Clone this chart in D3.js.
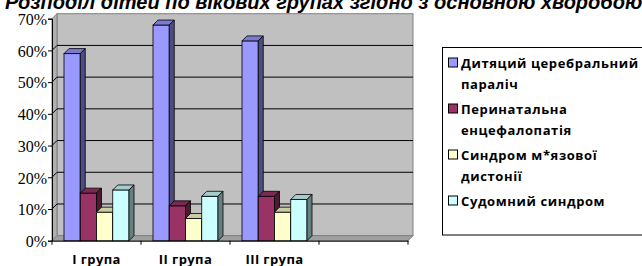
<!DOCTYPE html>
<html>
<head>
<meta charset="utf-8">
<script src="https://cdn.jsdelivr.net/npm/d3@7"></script>
<style>
    body { margin: 0; background: #ffffff; }
    #chart { width: 642px; height: 266px; overflow: hidden; }
</style>
</head>
<body>
<div id="chart"></div>
<script>
// Chart data
const categories = ["I група", "II група", "III група", ""];
const seriesKeys = ["dcp", "pe", "smd", "ss"];
const seriesLabels = [
    ["Дитяций церебральний", "параліч"],
    ["Перинатальна", "енцефалопатія"],
    ["Синдром м*язової", "дистонії"],
    ["Судомний синдром"]
];
const cerebralPalsy = [59, 68, 63];
const perinatalEncephalopathy = [15, 11, 14];
const muscleDystonia = [9, 7, 9];
const seizureSyndrome = [16, 14, 13];
const yTicks = [0, 10, 20, 30, 40, 50, 60, 70];
const titleText = "Розподіл дітей по вікових групах згідно з основною хворобою";

class Column3D {

    constructor() {
        // front, top and side colours per series
        this.colors = {
            dcp: ["#9999ff", "#7a7ad0", "#4d4d80"],
            pe: ["#993366", "#7a2952", "#4d1a33"],
            smd: ["#ffffcc", "#cccca3", "#808066"],
            ss: ["#ccffff", "#a3cccc", "#668080"]
        };
        this.depth = { dx: 5, dy: -5 };
        this.data = [];
        const series = [cerebralPalsy, perinatalEncephalopathy, muscleDystonia, seizureSyndrome];
        categories.forEach(function (c, i) {
            seriesKeys.forEach(function (k, j) {
                if (series[j][i] !== undefined) {
                    this.data.push({ category: c, key: k, value: series[j][i] });
                }
            }, this);
        }, this);
    }

    create_scales() {
        this.y = d3.scaleLinear().domain([0, 70]).range([240.7, 18.7]);
        this.x = d3.scaleBand().domain(categories).range([52, 408]);
        this.x_inner = d3.scaleBand()
            .domain(seriesKeys)
            .range([12, this.x.bandwidth() - 12]);
    }

    draw_walls(svg) {
        var x0 = 52, x1 = 408, dx = this.depth.dx, dy = this.depth.dy;
        var yTop = this.y(70), yBot = this.y(0);

        // back wall
        svg.append("rect")
            .attr("x", x0 + dx)
            .attr("y", yTop + dy)
            .attr("width", x1 - x0)
            .attr("height", yBot - yTop)
            .style("fill", "#c0c0c0")
            .style("stroke", "#808080")
            .style("stroke-width", 1);

        // side wall
        svg.append("polygon")
            .attr("points", [[x0, yBot], [x0 + dx, yBot + dy], [x0 + dx, yTop + dy], [x0, yTop]].join(" "))
            .style("fill", "#b0b0b0")
            .style("stroke", "#808080");

        // floor
        svg.append("polygon")
            .attr("points", [[x0, yBot], [x1, yBot], [x1 + dx, yBot + dy], [x0 + dx, yBot + dy]].join(" "))
            .style("fill", "#a0a0a0")
            .style("stroke", "#808080");

        // gridlines on back wall
        var y = this.y;
        svg.selectAll(".grid")
            .data(yTicks.filter(function (t) { return t > 0 && t < 70; }))
            .enter()
            .append("polyline")
            .attr("points", function (t) {
                return [[x0, y(t)], [x0 + dx, y(t) + dy], [x1 + dx, y(t) + dy]].join(" ");
            })
            .style("fill", "none")
            .style("stroke", "#000")
            .style("stroke-width", 1);
    }

    draw_axes(svg) {
        var y = this.y, x = this.x;

        var y_axis = d3.axisLeft(y)
            .tickValues(yTicks)
            .tickSize(4)
            .tickFormat(function (d) { return d + "%"; });
        var gy = svg.append("g")
            .attr("transform", "translate(52,0)")
            .call(y_axis);
        gy.select(".domain").attr("stroke", "#000");
        gy.selectAll("text")
            .attr("x", -5)
            .attr("dy", "0.36em")
            .style("font-family", "'Liberation Serif', 'Times New Roman', serif")
            .style("font-size", "16px")
            .style("fill", "#000");

        var x_axis = d3.axisBottom(x).tickSize(0).tickFormat(function (d) { return d; });
        var gx = svg.append("g")
            .attr("transform", "translate(0," + y(0) + ")")
            .call(x_axis);
        gx.select(".domain").attr("stroke", "#000");
        gx.selectAll("text")
            .attr("y", 23.5)
            .attr("dy", 0)
            .style("font-family", "'Open Sans', sans-serif")
            .style("font-weight", "bold")
            .style("font-size", "13px")
            .style("letter-spacing", "0.4px")
            .style("fill", "#000");

        // ticks on the category boundaries
        var bounds = categories.map(function (c) { return x(c); }).concat([x.range()[1]]);
        svg.selectAll(".xtick")
            .data(bounds)
            .enter()
            .append("line")
            .attr("x1", function (d) { return d; })
            .attr("x2", function (d) { return d; })
            .attr("y1", y(0))
            .attr("y2", y(0) + 4)
            .style("stroke", "#000");
    }

    draw_bars(svg) {
        var x = this.x, xi = this.x_inner, y = this.y, colors = this.colors;
        var dx = this.depth.dx, dy = this.depth.dy, w = xi.bandwidth();

        var bars = svg.selectAll(".bar")
            .data(this.data)
            .enter()
            .append("g")
            .attr("class", "bar");

        // front
        bars.append("rect")
            .attr("x", function (d) { return x(d.category) + xi(d.key); })
            .attr("y", function (d) { return y(d.value); })
            .attr("width", w)
            .attr("height", function (d) { return y(0) - y(d.value); })
            .style("fill", function (d) { return colors[d.key][0]; })
            .style("stroke", "#000")
            .style("stroke-width", 0.8);

        // top
        bars.append("polygon")
            .attr("points", function (d) {
                var bx = x(d.category) + xi(d.key), by = y(d.value);
                return [[bx, by], [bx + dx, by + dy], [bx + w + dx, by + dy], [bx + w, by]].join(" ");
            })
            .style("fill", function (d) { return colors[d.key][1]; })
            .style("stroke", "#000")
            .style("stroke-width", 0.8);

        // side
        bars.append("polygon")
            .attr("points", function (d) {
                var bx = x(d.category) + xi(d.key) + w, by = y(d.value);
                return [[bx, by], [bx + dx, by + dy], [bx + dx, y(0) + dy], [bx, y(0)]].join(" ");
            })
            .style("fill", function (d) { return colors[d.key][2]; })
            .style("stroke", "#000")
            .style("stroke-width", 0.8);
    }

    draw_legend(svg) {
        var colors = this.colors;
        svg.append("rect")
            .attr("x", 442.5)
            .attr("y", 47.5)
            .attr("width", 220)
            .attr("height", 187.5)
            .style("fill", "#fff")
            .style("stroke", "#000");

        var item_y = [67.5, 113.5, 159.5, 205.5];
        var items = svg.selectAll(".legend")
            .data(seriesKeys)
            .enter()
            .append("g")
            .attr("transform", function (d, i) { return "translate(448," + item_y[i] + ")"; });

        items.append("rect")
            .attr("x", 0.5)
            .attr("y", -9.5)
            .attr("width", 9)
            .attr("height", 9)
            .style("fill", function (d) { return colors[d][0]; })
            .style("stroke", "#000");

        items.each(function (d, i) {
            var t = d3.select(this).append("text")
                .style("font-family", "'Open Sans', sans-serif")
                .style("font-weight", "bold")
                .style("font-size", "13px")
                .style("letter-spacing", "0.6px")
                .style("fill", "#000");
            seriesLabels[i].forEach(function (line, j) {
                t.append("tspan").attr("x", 13).attr("y", j * 21).text(line);
            });
        });
    }

    draw_title(svg) {
        svg.append("text")
            .attr("x", 5)
            .attr("y", 9)
            .style("font-family", "'Liberation Sans', Arial, sans-serif")
            .style("font-style", "italic")
            .style("font-weight", "bold")
            .style("font-size", "20px")
            .style("fill", "#000")
            .text(titleText);
    }

    render() {
        var svg = d3.select("#chart")
            .append("svg")
            .attr("width", 642)
            .attr("height", 266);

        this.create_scales();
        this.draw_walls(svg);
        this.draw_axes(svg);
        this.draw_bars(svg);
        this.draw_legend(svg);
        this.draw_title(svg);
    }
}

new Column3D().render();
</script>
</body>
</html>
